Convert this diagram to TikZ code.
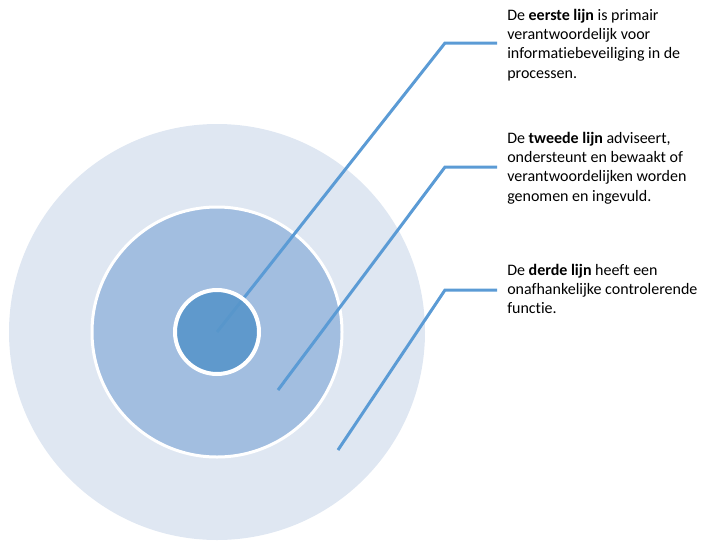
\documentclass[tikz,border=0pt]{standalone}
\usepackage{fontspec}
\setmainfont{Carlito}[Ligatures={NoCommon}]
\definecolor{ringOuter}{HTML}{DFE7F2}
\definecolor{ringMid}{HTML}{A2BEE0}
\definecolor{ringCore}{HTML}{5896CA}
\definecolor{leader}{HTML}{5B9BD5}

\begin{document}
\begin{tikzpicture}[
  x=0.75pt, y=-0.75pt,
  font=\fontsize{12}{14.4}\selectfont,
  ring/.style={circle, draw=white, line width=2.25pt, inner sep=0pt},
  txt/.style={anchor=north west, align=left, inner sep=0pt},
  lead/.style={draw=leader, line width=2.25pt}
]
\useasboundingbox (0,0) rectangle (707,540);

\node[ring, draw=none, fill=ringOuter, minimum size=312pt] (outer) at (217,332) {};
\node[ring, fill=ringMid, minimum size=187.5pt] (mid) at (217,332) {};

\node[txt] (first) at (507,9) {De \textbf{eerste lijn} is primair\\verantwoordelijk voor\\informatiebeveiliging in de\\processen.};
\node[txt] (second) at (507,132) {De \textbf{tweede lijn} adviseert,\\ondersteunt en bewaakt of\\verantwoordelijken worden\\genomen en ingevuld.};
\node[txt] (third) at (507,264) {De \textbf{derde lijn} heeft een\\onafhankelijke controlerende\\functie.};

\coordinate (s1) at (217,332);
\coordinate (k1) at (445,43);
\coordinate (e1) at (497,43);
\coordinate (s2) at (278,390);
\coordinate (k2) at (445,167);
\coordinate (e2) at (497,167);
\coordinate (s3) at (338,450);
\coordinate (k3) at (445,290);
\coordinate (e3) at (497,290);

\draw[lead] (s1) -- (k1) -- (e1);
\draw[lead] (s2) -- (k2) -- (e2);
\draw[lead] (s3) -- (k3) -- (e3);

\node[ring, fill=ringCore, fill opacity=0.9, line width=3pt, minimum size=63pt] (core) at (217,332) {};

\end{tikzpicture}
\end{document}
